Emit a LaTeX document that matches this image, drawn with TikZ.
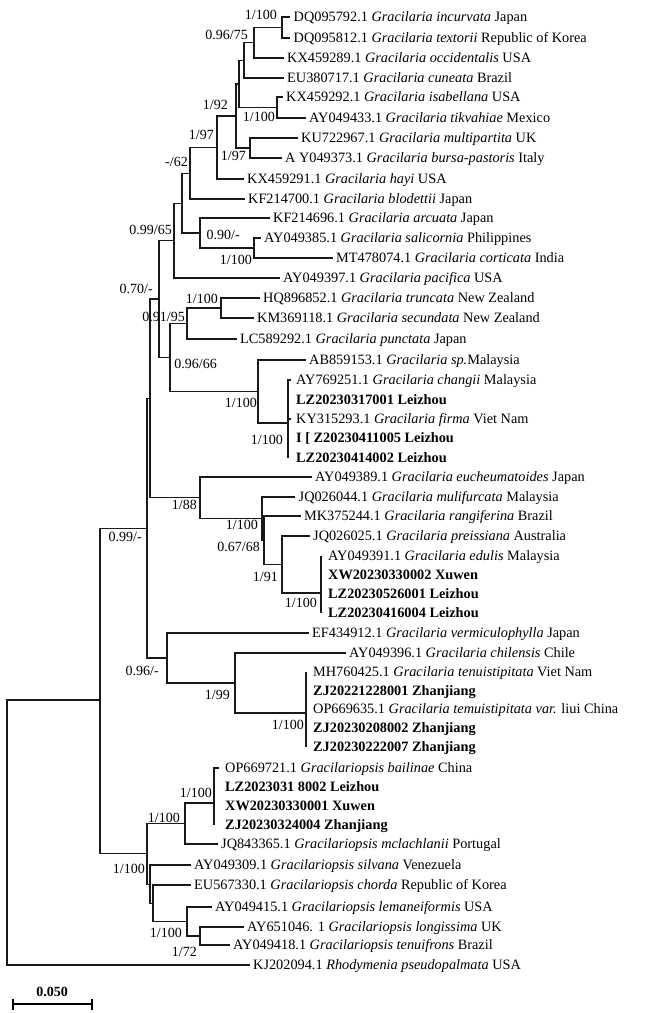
\documentclass[tikz,border=0pt]{standalone}
\usepackage{fontspec}
\setmainfont{Liberation Serif}
\begin{document}
\begin{tikzpicture}[x=1pt,y=-1pt,
  br/.style={line width=1.1pt,draw=black!90},
  leaf/.style={anchor=west,inner xsep=3.5pt,inner ysep=0pt,text height=9.4pt,text depth=0pt,font=\fontsize{14.3}{16}\selectfont},
  lbl/.style={anchor=east,inner sep=0pt,text height=9.4pt,text depth=0pt,font=\fontsize{14}{16}\selectfont},
  sbar/.style={line width=2pt,draw=black}]
\useasboundingbox (0,0) rectangle (650,1013);
% leaves
\node[leaf] (l0) at (290,17) {DQ095792.1 \textit{Gracilaria incurvata} Japan};
\node[leaf] (l1) at (290,38) {DQ095812.1 \textit{Gracilaria textorii} Republic of Korea};
\node[leaf] (l2) at (283.5,58) {KX459289.1 \textit{Gracilaria occidentalis} USA};
\node[leaf] (l3) at (283.5,78) {EU380717.1 \textit{Gracilaria cuneata} Brazil};
\node[leaf] (l4) at (282.5,97) {KX459292.1 \textit{Gracilaria isabellana} USA};
\node[leaf] (l5) at (305.5,118) {AY049433.1 \textit{Gracilaria tikvahiae} Mexico};
\node[leaf] (l6) at (297.5,138) {KU722967.1 \textit{Gracilaria multipartita} UK};
\node[leaf] (l7) at (281.5,158) {A Y049373.1 \textit{Gracilaria bursa-pastoris} Italy};
\node[leaf] (l8) at (243.5,179) {KX459291.1 \textit{Gracilaria hayi} USA};
\node[leaf] (l9) at (244.5,199) {KF214700.1 \textit{Gracilaria blodettii} Japan};
\node[leaf] (l10) at (269.5,218) {KF214696.1 \textit{Gracilaria arcuata} Japan};
\node[leaf] (l11) at (260.5,238) {AY049385.1 \textit{Gracilaria salicornia} Philippines};
\node[leaf] (l12) at (332.5,258) {MT478074.1 \textit{Gracilaria corticata} India};
\node[leaf] (l13) at (279.5,278) {AY049397.1 \textit{Gracilaria pacifica} USA};
\node[leaf] (l14) at (259.5,298) {HQ896852.1 \textit{Gracilaria truncata} New Zealand};
\node[leaf] (l15) at (253.5,318) {KM369118.1 \textit{Gracilaria secundata} New Zealand};
\node[leaf] (l16) at (236.5,339) {LC589292.1 \textit{Gracilaria punctata} Japan};
\node[leaf] (l17) at (305.5,360) {AB859153.1 \textit{Gracilaria sp.}Malaysia};
\node[leaf,inner xsep=5pt] (l18) at (291,380) {AY769251.1 \textit{Gracilaria changii} Malaysia};
\node[leaf,inner xsep=8pt] (l19) at (288,400) {\textbf{LZ20230317001 Leizhou}};
\node[leaf,inner xsep=5pt] (l20) at (291,419) {KY315293.1 \textit{Gracilaria firma} Viet Nam};
\node[leaf,inner xsep=8pt] (l21) at (288,438) {\textbf{I [ Z20230411005 Leizhou}};
\node[leaf,inner xsep=8pt] (l22) at (288,458) {\textbf{LZ20230414002 Leizhou}};
\node[leaf] (l23) at (311.5,477) {AY049389.1 \textit{Gracilaria eucheumatoides} Japan};
\node[leaf] (l24) at (295,497) {JQ026044.1 \textit{Gracilaria mulifurcata} Malaysia};
\node[leaf] (l25) at (300.5,516) {MK375244.1 \textit{Gracilaria rangiferina} Brazil};
\node[leaf] (l26) at (309.5,536) {JQ026025.1 \textit{Gracilaria preissiana} Australia};
\node[leaf,inner xsep=7pt] (l27) at (321,556) {AY049391.1 \textit{Gracilaria edulis} Malaysia};
\node[leaf,inner xsep=7pt] (l28) at (321,575) {\textbf{XW20230330002 Xuwen}};
\node[leaf,inner xsep=7pt] (l29) at (321,594) {\textbf{LZ20230526001 Leizhou}};
\node[leaf,inner xsep=7pt] (l30) at (321,613) {\textbf{LZ20230416004 Leizhou}};
\node[leaf] (l31) at (308.5,633) {EF434912.1 \textit{Gracilaria vermiculophylla} Japan};
\node[leaf] (l32) at (345.5,653) {AY049396.1 \textit{Gracilaria chilensis} Chile};
\node[leaf,inner xsep=7pt] (l33) at (306,672) {MH760425.1 \textit{Gracilaria tenuistipitata} Viet Nam};
\node[leaf,inner xsep=7pt] (l34) at (306,691) {\textbf{ZJ20221228001 Zhanjiang}};
\node[leaf,inner xsep=7pt] (l35) at (306,709) {OP669635.1 \textit{Gracilaria temuistipitata var.} liui China};
\node[leaf,inner xsep=7pt] (l36) at (306,728) {\textbf{ZJ20230208002 Zhanjiang}};
\node[leaf,inner xsep=7pt] (l37) at (306,747) {\textbf{ZJ20230222007 Zhanjiang}};
\node[leaf,inner xsep=6pt] (l38) at (219,768) {OP669721.1 \textit{Gracilariopsis bailinae} China};
\node[leaf,inner xsep=11pt] (l39) at (214,787) {\textbf{LZ2023031 8002 Leizhou}};
\node[leaf,inner xsep=11pt] (l40) at (214,806) {\textbf{XW20230330001 Xuwen}};
\node[leaf,inner xsep=11pt] (l41) at (214,825) {\textbf{ZJ20230324004 Zhanjiang}};
\node[leaf] (l42) at (217.5,844) {JQ843365.1 \textit{Gracilariopsis mclachlanii} Portugal};
\node[leaf] (l43) at (190.5,865) {AY049309.1 \textit{Gracilariopsis silvana} Venezuela};
\node[leaf] (l44) at (190.5,885) {EU567330.1 \textit{Gracilariopsis chorda} Republic of Korea};
\node[leaf] (l45) at (211.5,907) {AY049415.1 \textit{Gracilariopsis lemaneiformis} USA};
\node[leaf] (l46) at (243.5,927) {AY651046. 1 \textit{Gracilariopsis longissima} UK};
\node[leaf] (l47) at (229.5,945) {AY049418.1 \textit{Gracilariopsis tenuifrons} Brazil};
\node[leaf] (l48) at (249.5,965) {KJ202094.1 \textit{Rhodymenia pseudopalmata} USA};
% internal nodes
\coordinate (nA) at (282,27.5);
\coordinate (nB) at (254,42.75);
\coordinate (nC) at (244,60.4);
\coordinate (nE) at (277,107.5);
\coordinate (nD) at (239,84);
\coordinate (nF) at (250,148);
\coordinate (nG) at (236,116);
\coordinate (nH) at (217,147.5);
\coordinate (nI) at (190,173.25);
\coordinate (nL) at (254,248);
\coordinate (nK) at (200,233);
\coordinate (nJ) at (182,203.1);
\coordinate (nM) at (174,240.6);
\coordinate (nR1) at (221,308);
\coordinate (nQ) at (187,323.5);
\coordinate (nR2) at (288,423);
\coordinate (nR) at (258,391.5);
\coordinate (nP) at (170,357.5);
\coordinate (nN) at (159,299);
\coordinate (nAD) at (321,593);
\coordinate (nAC) at (282,564.5);
\coordinate (nAB) at (264,540.25);
\coordinate (nAA) at (262,518.6);
\coordinate (nS) at (200,497.8);
\coordinate (nO) at (150,398.4);
\coordinate (nZ) at (306,713);
\coordinate (nY) at (235,683);
\coordinate (nU) at (167,658);
\coordinate (nT) at (147,528.2);
\coordinate (nX1) at (214,803);
\coordinate (nX2) at (185,823.5);
\coordinate (nX7) at (200,936);
\coordinate (nX6) at (187,921.5);
\coordinate (nX5) at (153,903.25);
\coordinate (nX4) at (150,884.1);
\coordinate (nX3) at (147,853.8);
\coordinate (nV) at (100,700);
\coordinate (nW) at (7,832.5);
% branches
\draw[br] (nA) |- (l0.west); \draw[br] (nA) |- (l1.west);
\draw[br] (nB) |- (nA); \draw[br] (nB) |- (l2.west);
\draw[br] (nC) |- (nB); \draw[br] (nC) |- (l3.west);
\draw[br] (nE) |- (l4.west); \draw[br] (nE) |- (l5.west);
\draw[br] (nD) |- (nC); \draw[br] (nD) |- (nE);
\draw[br] (nF) |- (l6.west); \draw[br] (nF) |- (l7.west);
\draw[br] (nG) |- (nD); \draw[br] (nG) |- (nF);
\draw[br] (nH) |- (nG); \draw[br] (nH) |- (l8.west);
\draw[br] (nI) |- (nH); \draw[br] (nI) |- (l9.west);
\draw[br] (nL) |- (l11.west); \draw[br] (nL) |- (l12.west);
\draw[br] (nK) |- (l10.west); \draw[br] (nK) |- (nL);
\draw[br] (nJ) |- (nI); \draw[br] (nJ) |- (nK);
\draw[br] (nM) |- (nJ); \draw[br] (nM) |- (l13.west);
\draw[br] (nR1) |- (l14.west); \draw[br] (nR1) |- (l15.west);
\draw[br] (nQ) |- (nR1); \draw[br] (nQ) |- (l16.west);
\foreach \k in {18,...,22} {\draw[br] (nR2) |- (l\k.west);}
\draw[br] (nR) |- (l17.west); \draw[br] (nR) |- (nR2);
\draw[br] (nP) |- (nQ); \draw[br] (nP) |- (nR);
\draw[br] (nN) |- (nM); \draw[br] (nN) |- (nP);
\foreach \k in {27,...,30} {\draw[br] (nAD) |- (l\k.west);}
\draw[br] (nAC) |- (l26.west); \draw[br] (nAC) |- (nAD);
\draw[br] (nAB) |- (l25.west); \draw[br] (nAB) |- (nAC);
\draw[br] (nAA) |- (l24.west); \draw[br] (nAA) |- (nAB);
\draw[br] (nS) |- (l23.west); \draw[br] (nS) |- (nAA);
\draw[br] (nO) |- (nN); \draw[br] (nO) |- (nS);
\foreach \k in {33,...,37} {\draw[br] (nZ) |- (l\k.west);}
\draw[br] (nY) |- (l32.west); \draw[br] (nY) |- (nZ);
\draw[br] (nU) |- (l31.west); \draw[br] (nU) |- (nY);
\draw[br] (nT) |- (nO); \draw[br] (nT) |- (nU);
\foreach \k in {38,...,41} {\draw[br] (nX1) |- (l\k.west);}
\draw[br] (nX2) |- (nX1); \draw[br] (nX2) |- (l42.west);
\draw[br] (nX7) |- (l46.west); \draw[br] (nX7) |- (l47.west);
\draw[br] (nX6) |- (l45.west); \draw[br] (nX6) |- (nX7);
\draw[br] (nX5) |- (l44.west); \draw[br] (nX5) |- (nX6);
\draw[br] (nX4) |- (l43.west); \draw[br] (nX4) |- (nX5);
\draw[br] (nX3) |- (nX2); \draw[br] (nX3) |- (nX4);
\draw[br] (nV) |- (nT); \draw[br] (nV) |- (nX3);
\draw[br] (nW) |- (nV); \draw[br] (nW) |- (l48.west);
% support values
\node[lbl] (bA) at (277,15) {1/100};
\node[lbl] (bB) at (248,35) {0.96/75};
\node[lbl] (bE) at (275,117) {1/100};
\node[lbl] (bG) at (228,105) {1/92};
\node[lbl] (bH) at (214,135) {1/97};
\node[lbl] (bF) at (246,156) {1/97};
\node[lbl] (bI) at (188,162) {-/62};
\node[lbl] (bM) at (172,230) {0.99/65};
\node[lbl] (bK) at (240,235) {0.90/-};
\node[lbl] (bL) at (252,260) {1/100};
\node[lbl] (bN) at (153,289) {0.70/-};
\node[lbl] (bR1) at (218,299) {1/100};
\node[lbl] (bQ) at (185,317) {0.91/95};
\node[lbl] (bP) at (217,364) {0.96/66};
\node[lbl] (bR) at (257,403) {1/100};
\node[lbl] (bR2) at (283,440) {1/100};
\node[lbl] (bS) at (197,505) {1/88};
\node[lbl] (bAA) at (258,525) {1/100};
\node[lbl] (bAB) at (260,547) {0.67/68};
\node[lbl] (bAC) at (278,577) {1/91};
\node[lbl] (bAD) at (317,603) {1/100};
\node[lbl] (bT) at (142,537) {0.99/-};
\node[lbl] (bU) at (159,671) {0.96/-};
\node[lbl] (bY) at (230,695) {1/99};
\node[lbl] (bZ) at (304,725) {1/100};
\node[lbl] (bX1) at (212,793) {1/100};
\node[lbl] (bX2) at (180,818) {1/100};
\node[lbl] (bX3) at (145,869) {1/100};
\node[lbl] (bX6) at (182,933) {1/100};
\node[lbl] (bX7) at (197,952) {1/72};
% scale bar
\coordinate (sb1) at (13,1004);
\coordinate (sb2) at (92,1004);
\draw[sbar] (sb1) -- (sb2);
\draw[sbar] ([yshift=5.5pt]sb1) -- ([yshift=-5.5pt]sb1);
\draw[sbar] ([yshift=5.5pt]sb2) -- ([yshift=-5.5pt]sb2);
\node[lbl,anchor=center,font=\fontsize{14}{16}\selectfont\bfseries] (sbt) at (52,992) {0.050};
\end{tikzpicture}
\end{document}
